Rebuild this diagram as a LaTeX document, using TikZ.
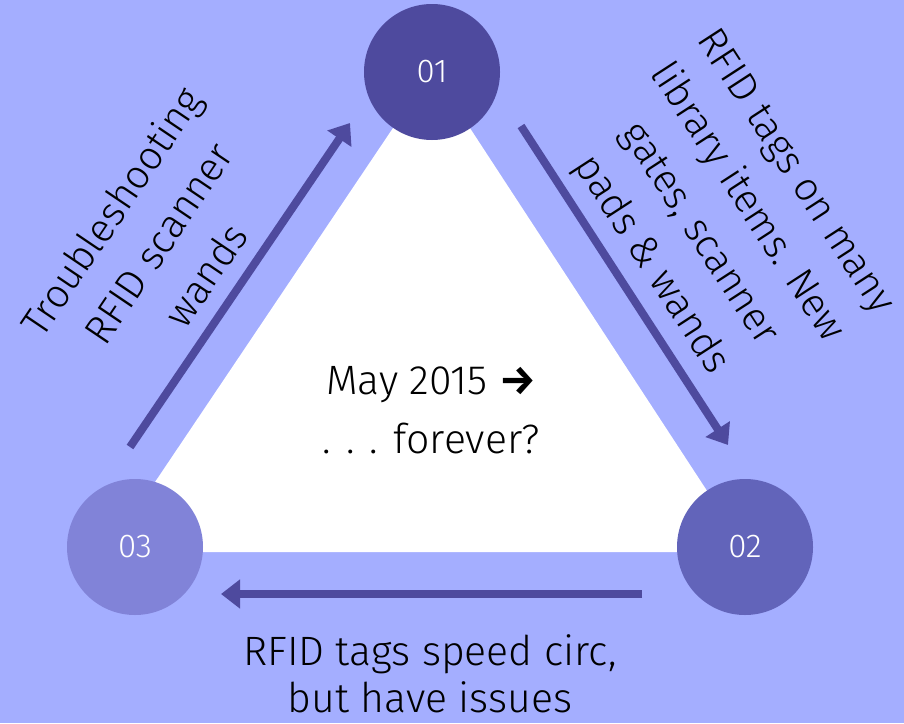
\documentclass[tikz,border=0pt]{standalone}
\usepackage{fontspec}
\setmainfont{Fira Sans Light}
\newfontfamily\arrowfont{Fira Sans}
\usetikzlibrary{arrows.meta}

\definecolor{bgblue}{HTML}{A4AEFF}
\definecolor{stepdark}{HTML}{4E4A9E}
\definecolor{stepmid}{HTML}{6264BA}
\definecolor{steplight}{HTML}{8183D8}

\begin{document}
\begin{tikzpicture}[
	x=1pt, y=-1pt,
	stepcircle/.style={
		circle,
		draw=none,
		minimum size = 136pt,
		inner sep =+ 0pt,
		text=white,
		font=\fontsize{33}{36}\selectfont
	},
	flow/.style={
		line width = 8pt,
		draw=stepdark,
		-{Triangle[length=19pt,width=28pt]}
	},
	note/.style={
		align=center,
		text=black,
		inner sep =+ 0pt,
		font=\fontsize{41}{47}\selectfont
	},
	sidenote/.style={
		note,
		font=\fontsize{40}{57}\selectfont
	}
]
\useasboundingbox (0,0) rectangle (904,723);
\fill[bgblue] (0,0) rectangle (904,723);

% white triangle
\fill[white] (432,70) -- (747,552) -- (108,552) -- cycle;

% steps
\node[stepcircle, fill=stepdark]  (c1) at (432,72)  {01};
\node[stepcircle, fill=stepmid]   (c2) at (745,547) {02};
\node[stepcircle, fill=steplight] (c3) at (135,547) {03};

% arrow ends
\coordinate (a1s) at (521,126);
\coordinate (a1e) at (728,445);
\coordinate (a2s) at (642,594);
\coordinate (a2e) at (221,594);
\coordinate (a3s) at (130,447);
\coordinate (a3e) at (350,123);

\draw[flow] (a1s) -- (a1e);
\draw[flow] (a2s) -- (a2e);
\draw[flow] (a3s) -- (a3e);

% texts
\node[sidenote, rotate=-57] (t1) at (722,219) {RFID tags on many\\library items. New\\gates, scanner\\pads \& wands};
\node[note] (t2) at (430,674) {RFID tags speed circ,\\but have issues};
\node[sidenote, rotate=56] (t3) at (158,243) {Troubleshooting\\RFID scanner\\wands};
\node[note, font=\fontsize{41}{59}\selectfont] (mid) at (431,410) {May 2015 {\arrowfont\bfseries →}\\. . . forever?};

\end{tikzpicture}
\end{document}
